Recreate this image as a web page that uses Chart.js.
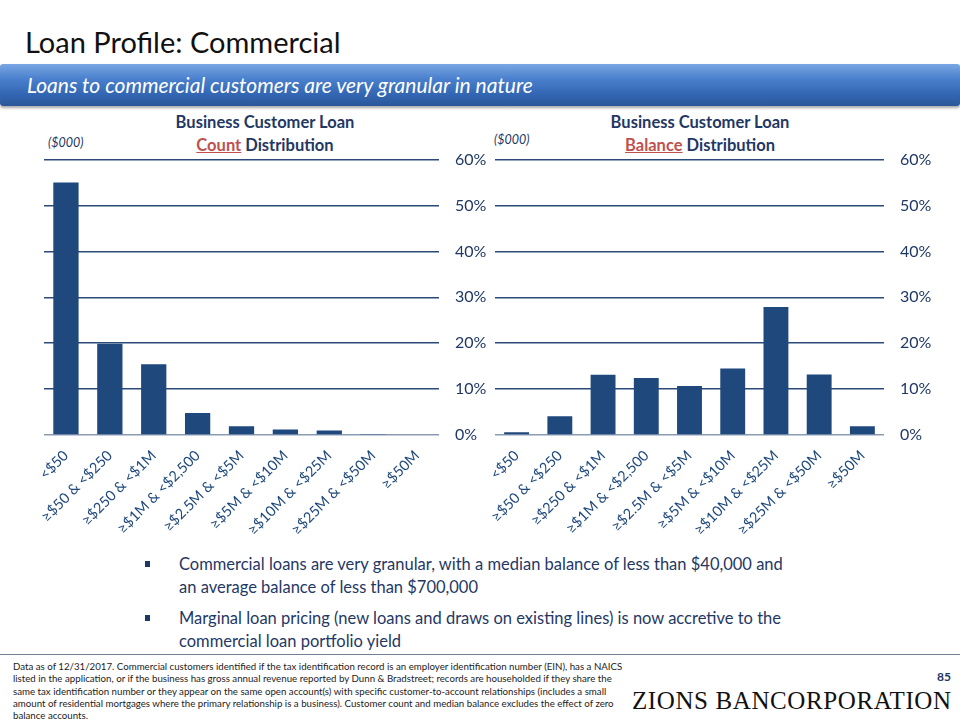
<!DOCTYPE html>
<html>
<head>
<meta charset="utf-8">
<script src="https://cdn.jsdelivr.net/npm/chart.js@4.4.1/dist/chart.umd.min.js"></script>
<style>
  body { margin: 0; width: 960px; height: 720px; background: #ffffff; font-family: Lato, "Open Sans", sans-serif; position: relative; overflow: hidden; }
  .title { position: absolute; left: 25px; top: 24px; font-size: 29px; color: #111111; }
  .banner { position: absolute; left: 0; top: 64px; width: 960px; height: 42px;
    background: linear-gradient(#7aa7e4 0%, #4a80cd 35%, #3468b5 70%, #2a5799 100%);
    box-shadow: 0 2px 3px rgba(0,0,0,0.35); border-radius: 3px; }
  .banner span { position: absolute; left: 27px; top: 8px; font-size: 21px; font-style: italic; color: #ffffff; }
  .chartTitle { position: absolute; width: 300px; text-align: center; font-weight: bold; font-size: 16.5px; line-height: 23px; color: #1f3864; }
  .chartTitle u { color: #c0504d; }
  .unit { position: absolute; font-style: italic; font-size: 12.5px; color: #1f3864; }
  .box { position: absolute; }
  .bullets { position: absolute; left: 142px; top: 553px; width: 660px; font-size: 16.5px; line-height: 22.5px; color: #1f3864; }
  .bullets div { position: relative; padding-left: 37px; margin-bottom: 9px; }
  .bullets div::before { content: ""; position: absolute; left: 3px; top: 8px; width: 5px; height: 6px; background: #1f3864; }
  .rule { position: absolute; left: 0; top: 654px; width: 960px; height: 1px; background: #6f7f95; }
  .note { position: absolute; left: 13px; top: 660px; width: 612px; font-size: 9.7px; line-height: 12.3px; color: #222222; }
  .page { position: absolute; left: 937px; top: 669px; font-size: 12px; font-weight: bold; color: #1f3864; }
  .logo { position: absolute; left: 632px; top: 687px; font-family: "Liberation Serif", "DejaVu Serif", serif; font-size: 25px; letter-spacing: 0.6px; color: #111111; white-space: nowrap; }
</style>
</head>
<body>

<div class="title">Loan Profile: Commercial</div>
<div class="banner"><span>Loans to commercial customers are very granular in nature</span></div>

<div class="chartTitle" style="left:115px; top:111px;">Business Customer Loan<br><u>Count</u> Distribution</div>
<div class="unit" style="left:48px; top:135px;">($000)</div>

<div class="chartTitle" style="left:550px; top:111px;">Business Customer Loan<br><u>Balance</u> Distribution</div>
<div class="unit" style="left:494px; top:132px;">($000)</div>

<div class="box" style="left:30px; top:134px; width:459px; height:401px;"><canvas id="countChart"></canvas></div>
<div class="box" style="left:481px; top:134px; width:453px; height:401px;"><canvas id="balanceChart"></canvas></div>

<div class="bullets">
  <div>Commercial loans are very granular, with a median balance of less than $40,000 and an average balance of less than $700,000</div>
  <div>Marginal loan pricing (new loans and draws on existing lines) is now accretive to the commercial loan portfolio yield</div>
</div>

<div class="rule"></div>
<div class="note">Data as of 12/31/2017. Commercial customers identified if the tax identification record is an employer identification number (EIN), has a NAICS listed in the application, or if the business has gross annual revenue reported by Dunn &amp; Bradstreet; records are householded if they share the same tax identification number or they appear on the same open account(s) with specific customer-to-account relationships (includes a small amount of residential mortgages where the primary relationship is a business). Customer count and median balance excludes the effect of zero balance accounts.</div>
<div class="page">85</div>
<div class="logo">ZIONS BANCORPORATION</div>

<script>

// DATA

const sizeBands = [
  "<$50",
  "≥$50 & <$250",
  "≥$250 & <$1M",
  "≥$1M & <$2,500",
  "≥$2.5M & <$5M",
  "≥$5M & <$10M",
  "≥$10M & <$25M",
  "≥$25M & <$50M",
  "≥$50M"
];

const countShare = [55.0, 19.9, 15.4, 4.8, 1.9, 1.2, 1.0, 0.2, 0.0];

const balanceShare = [0.6, 4.1, 13.1, 12.4, 10.7, 14.5, 27.9, 13.2, 1.9];

const axisMax = 60;
const axisStep = 10;



// CHART BUILDER

function makeChart(canvasId, values) {

  return new Chart(
    document.getElementById(canvasId),
    {
      type: "bar",

      data: {
        labels: sizeBands,
        datasets: [{
          data: values,
          backgroundColor: "#1f497d",
          borderWidth: 0,
          barPercentage: 0.72,
          categoryPercentage: 0.8
        }]
      },

      options: {
        responsive: true,
        maintainAspectRatio: false,
        animation: false,
        layout: {
          padding: { left: 14, right: 0, top: 9, bottom: 0 }
        },
        plugins: {
          legend: { display: false },
          tooltip: { enabled: false }
        },
        scales: {
          x: {
            grid: { display: false },
            border: { display: false },
            ticks: {
              color: "#1f497d",
              font: { family: "Lato", size: 14.5 },
              minRotation: 45,
              maxRotation: 45,
              autoSkip: false,
              padding: 4
            },
            afterFit: axis => { axis.height = 100; }
          },
          y: {
            position: "right",
            min: 0,
            max: axisMax,
            border: { display: false },
            grid: {
              drawTicks: false,
              lineWidth: 1.5,
              color: ctx => ctx.tick && ctx.tick.value === 0 ? "#8a9bb4" : "#2b4a78"
            },
            ticks: {
              stepSize: axisStep,
              padding: 16,
              color: "#1f3864",
              font: { family: "Lato", size: 16 },
              callback: value => value + "%"
            },
            afterFit: axis => { axis.width = 50; }
          }
        }
      }
    }
  );

}



// DRAW

makeChart("countChart", countShare);

makeChart("balanceChart", balanceShare);

</script>
</body>
</html>
